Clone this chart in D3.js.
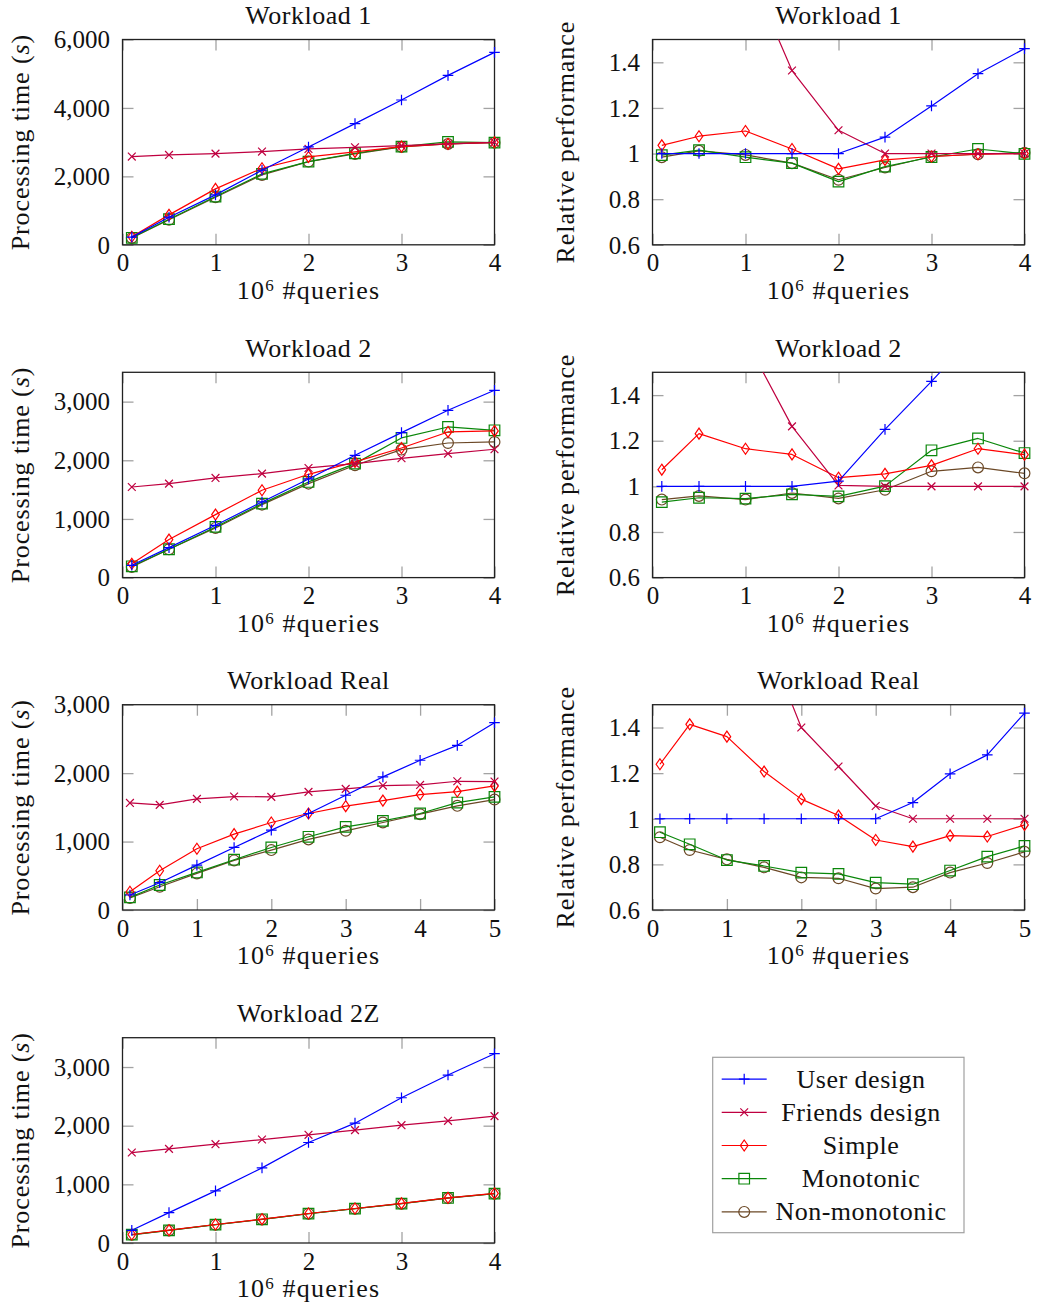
<!DOCTYPE html>
<html>
<head>
<meta charset="utf-8">
<script src="https://cdn.jsdelivr.net/npm/d3@7"></script>
<style>
  body { margin: 0; background: #fff; }
  svg text { font-family: "Liberation Serif", "DejaVu Serif", serif; fill: #111; }
</style>
</head>
<body>
<svg id="chart" width="1041" height="1307" font-family="Liberation Serif, DejaVu Serif, serif"></svg>
<script>
// ---- query counts (10^6) ----
const xsSynthetic = [0.1, 0.5, 1, 1.5, 2, 2.5, 3, 3.5, 4];
const xsReal = [0.1, 0.5, 1, 1.5, 2, 2.5, 3, 3.5, 4, 4.5, 5];

const seriesNames = ["User design", "Friends design", "Simple", "Monotonic", "Non-monotonic"];

// ---- Workload 1 ----
const w1TimeUser    = [224, 807, 1459, 2179, 2860, 3541, 4232, 4951, 5623];
const w1TimeFriends = [2578, 2626, 2665, 2724, 2802, 2850, 2899, 2947, 2996];
const w1TimeSimple  = [235, 875, 1634, 2237, 2568, 2714, 2870, 2947, 2996];
const w1TimeMono    = [204, 749, 1410, 2072, 2432, 2675, 2870, 3006, 2986];
const w1TimeNonMono = [200, 730, 1391, 2043, 2432, 2656, 2860, 2947, 2986];

const w1RelUser    = [1, 1, 1, 1, 1, 1.072, 1.209, 1.350, 1.460];
const w1RelFriends = [5.0, 2.6, 1.836, 1.364, 1.102, 1, 1, 1, 1];
const w1RelSimple  = [1.036, 1.076, 1.099, 1.020, 0.933, 0.972, 0.987, 0.997, 1.0];
const w1RelMono    = [0.993, 1.015, 0.984, 0.958, 0.877, 0.943, 0.985, 1.02, 0.999];
const w1RelNonMono = [0.984, 1.012, 0.994, 0.958, 0.885, 0.939, 0.987, 0.997, 1.004];

// ---- Workload 2 ----
const w2TimeUser    = [210, 511, 892, 1290, 1682, 2085, 2472, 2852, 3193];
const w2TimeFriends = [1545, 1602, 1699, 1773, 1869, 1943, 2034, 2114, 2188];
const w2TimeSimple  = [235, 648, 1074, 1489, 1761, 1972, 2210, 2483, 2500];
const w2TimeMono    = [193, 483, 864, 1261, 1631, 1943, 2381, 2568, 2511];
const w2TimeNonMono = [182, 483, 847, 1244, 1602, 1915, 2182, 2295, 2313];

const w2RelUser    = [1, 1, 1, 1, 1.023, 1.250, 1.460, 1.68, 1.88];
const w2RelFriends = [3.0, 2.2, 1.645, 1.263, 1.004, 1, 1, 1, 1];
const w2RelSimple  = [1.073, 1.231, 1.165, 1.140, 1.038, 1.055, 1.092, 1.165, 1.139];
const w2RelMono    = [0.931, 0.950, 0.946, 0.965, 0.956, 1.001, 1.158, 1.210, 1.146];
const w2RelNonMono = [0.942, 0.958, 0.942, 0.971, 0.947, 0.985, 1.066, 1.083, 1.057];

// ---- Workload Real ----
const realTimeUser    = [219, 399, 656, 914, 1167, 1410, 1677, 1945, 2188, 2406, 2737];
const realTimeFriends = [1565, 1536, 1624, 1658, 1653, 1726, 1770, 1818, 1828, 1881, 1877];
const realTimeSimple  = [267, 574, 895, 1108, 1279, 1410, 1517, 1599, 1687, 1731, 1813];
const realTimeMono    = [185, 365, 549, 735, 914, 1070, 1215, 1303, 1410, 1570, 1653];
const realTimeNonMono = [175, 340, 535, 725, 875, 1031, 1157, 1279, 1400, 1522, 1614];

const realRelUser    = [1, 1, 1, 1, 1, 1, 1, 1.071, 1.197, 1.28, 1.463];
const realRelFriends = [7.15, 3.85, 2.48, 1.81, 1.40, 1.229, 1.056, 1, 1, 1, 1];
const realRelSimple  = [1.239, 1.414, 1.360, 1.207, 1.086, 1.014, 0.907, 0.878, 0.926, 0.922, 0.973];
const realRelMono    = [0.941, 0.888, 0.819, 0.793, 0.764, 0.758, 0.720, 0.713, 0.773, 0.834, 0.881];
const realRelNonMono = [0.919, 0.863, 0.822, 0.787, 0.743, 0.739, 0.694, 0.700, 0.764, 0.806, 0.855];

// ---- Workload 2Z ----
const w2zTimeUser    = [216, 518, 888, 1281, 1713, 2043, 2476, 2863, 3227];
const w2zTimeFriends = [1542, 1605, 1685, 1764, 1844, 1924, 2009, 2083, 2163];
const w2zTimeSimple  = [145, 218, 315, 406, 503, 588, 675, 770, 845];
const w2zTimeMono    = [142, 216, 313, 404, 501, 586, 672, 768, 842];
const w2zTimeNonMono = [140, 214, 311, 402, 499, 584, 670, 766, 840];

// ---- tick values ----
const timeTicks6000 = [0, 2000, 4000, 6000];
const timeTicks3000 = [0, 1000, 2000, 3000];
const relTicks = [0.6, 0.8, 1, 1.2, 1.4];

// ---- styling ----
const seriesStyle = {
  "User design":    { color: "#0000ff", mark: "plus" },
  "Friends design": { color: "#bf0040", mark: "cross" },
  "Simple":         { color: "#ff0000", mark: "diamond" },
  "Monotonic":      { color: "#0a870a", mark: "square" },
  "Non-monotonic":  { color: "#6b4826", mark: "circle" }
};

const markPath = {
  plus:    "M-5.3,0H5.3M0,-5.3V5.3",
  cross:   "M-3.9,-3.9L3.9,3.9M-3.9,3.9L3.9,-3.9",
  diamond: "M0,-5.5L3.8,0L0,5.5L-3.8,0Z",
  square:  "M-5.3,-5.3H5.3V5.3H-5.3Z",
  circle:  "M5.4,0A5.4,5.4,0,1,1,-5.4,0A5.4,5.4,0,1,1,5.4,0Z"
};

const colX = [122.5, 652.5];
const rowY = [39.5, 372.3, 704.7, 1037.7];
const plotW = 372;
const plotH = 205.3;

const timeLabel = "time";
const relLabel = "rel";

const panels = [
  { title: "Workload 1", col: 0, row: 0, xs: xsSynthetic, xMax: 4, yDomain: [0, 6000], yTicks: timeTicks6000, kind: timeLabel,
    values: [w1TimeUser, w1TimeFriends, w1TimeSimple, w1TimeMono, w1TimeNonMono] },
  { title: "Workload 1", col: 1, row: 0, xs: xsSynthetic, xMax: 4, yDomain: [0.6, 1.5], yTicks: relTicks, kind: relLabel,
    values: [w1RelUser, w1RelFriends, w1RelSimple, w1RelMono, w1RelNonMono] },
  { title: "Workload 2", col: 0, row: 1, xs: xsSynthetic, xMax: 4, yDomain: [0, 3500], yTicks: timeTicks3000, kind: timeLabel,
    values: [w2TimeUser, w2TimeFriends, w2TimeSimple, w2TimeMono, w2TimeNonMono] },
  { title: "Workload 2", col: 1, row: 1, xs: xsSynthetic, xMax: 4, yDomain: [0.6, 1.5], yTicks: relTicks, kind: relLabel,
    values: [w2RelUser, w2RelFriends, w2RelSimple, w2RelMono, w2RelNonMono] },
  { title: "Workload Real", col: 0, row: 2, xs: xsReal, xMax: 5, yDomain: [0, 3000], yTicks: timeTicks3000, kind: timeLabel,
    values: [realTimeUser, realTimeFriends, realTimeSimple, realTimeMono, realTimeNonMono] },
  { title: "Workload Real", col: 1, row: 2, xs: xsReal, xMax: 5, yDomain: [0.6, 1.5], yTicks: relTicks, kind: relLabel,
    values: [realRelUser, realRelFriends, realRelSimple, realRelMono, realRelNonMono] },
  { title: "Workload 2Z", col: 0, row: 3, xs: xsSynthetic, xMax: 4, yDomain: [0, 3500], yTicks: timeTicks3000, kind: timeLabel,
    values: [w2zTimeUser, w2zTimeFriends, w2zTimeSimple, w2zTimeMono, w2zTimeNonMono] }
];

const svg = d3.select("#chart");
const FONT = 26;
const TICK_FONT = 25;
const LS = 0.5;

function styleTicks(sel) {
  sel.select(".domain").remove();
  sel.attr("font-size", null).attr("font-family", null);
  sel.selectAll(".tick line").attr("stroke", "#a3a3a3").attr("stroke-width", 1.3);
}

panels.forEach((p, pi) => {
  const g = svg.append("g").attr("transform", `translate(${colX[p.col]},${rowY[p.row]})`);
  const x = d3.scaleLinear().domain([0, p.xMax]).range([0, plotW]);
  const y = d3.scaleLinear().domain(p.yDomain).range([plotH, 0]);
  const xTicks = d3.range(0, p.xMax + 1);
  const yFmt = p.kind === timeLabel ? d3.format(",") : (d => String(+d.toFixed(1)));

  // inward ticks on all four sides
  g.append("g").attr("transform", `translate(0,${plotH})`)
    .call(d3.axisBottom(x).tickValues(xTicks).tickSizeInner(-11).tickSizeOuter(0).tickFormat(d3.format("d")))
    .call(styleTicks)
    .call(s => s.selectAll("text").attr("y", 26.5).attr("dy", null).attr("font-size", TICK_FONT));
  g.append("g")
    .call(d3.axisTop(x).tickValues(xTicks).tickSizeInner(-11).tickSizeOuter(0).tickFormat(""))
    .call(styleTicks);
  g.append("g")
    .call(d3.axisLeft(y).tickValues(p.yTicks).tickSizeInner(-11).tickSizeOuter(0).tickFormat(yFmt))
    .call(styleTicks)
    .call(s => s.selectAll("text").attr("x", -12.5).attr("dy", "0.33em").attr("font-size", TICK_FONT));
  g.append("g").attr("transform", `translate(${plotW},0)`)
    .call(d3.axisRight(y).tickValues(p.yTicks).tickSizeInner(-11).tickSizeOuter(0).tickFormat(""))
    .call(styleTicks);

  // frame
  g.append("rect").attr("width", plotW).attr("height", plotH)
    .attr("fill", "none").attr("stroke", "#222").attr("stroke-width", 1.3);

  // clip region for lines
  const clipId = `clip-${pi}`;
  g.append("clipPath").attr("id", clipId)
    .append("rect").attr("width", plotW).attr("height", plotH);

  const line = d3.line().x(d => x(d.x)).y(d => y(d.y));
  const [lo, hi] = p.yDomain;

  // draw bottom-to-top so the user design sits above the others
  const order = d3.range(seriesNames.length).reverse();
  order.forEach(si => {
    const name = seriesNames[si];
    const st = seriesStyle[name];
    const pts = p.xs.map((xv, i) => ({ x: xv, y: p.values[si][i] }));
    g.append("path").datum(pts)
      .attr("clip-path", `url(#${clipId})`)
      .attr("fill", "none").attr("stroke", st.color).attr("stroke-width", 1.2)
      .attr("stroke-linejoin", "round")
      .attr("d", line);
    g.append("g").selectAll("path")
      .data(pts.filter(d => d.y >= lo - 1e-9 && d.y <= hi + 1e-9))
      .join("path")
      .attr("transform", d => `translate(${x(d.x)},${y(d.y)})`)
      .attr("d", markPath[st.mark])
      .attr("fill", "none").attr("stroke", st.color).attr("stroke-width", 1.2);
  });

  // title
  g.append("text").attr("x", plotW / 2).attr("y", -15.5)
    .attr("text-anchor", "middle").attr("font-size", FONT).attr("letter-spacing", LS)
    .text(p.title);

  // x label: 10^6 #queries
  const xl = g.append("text").attr("x", plotW / 2).attr("y", plotH + 54)
    .attr("text-anchor", "middle").attr("font-size", FONT).attr("letter-spacing", 1.2);
  xl.append("tspan").text("10");
  xl.append("tspan").attr("font-size", 17).attr("dy", -8).text("6");
  xl.append("tspan").attr("dy", 8).text("\u00a0#queries");

  // y label
  const yl = g.append("text")
    .attr("transform", `translate(${p.col === 0 ? 28.5 - colX[0] : 574 - colX[1]},${plotH / 2}) rotate(-90)`)
    .attr("text-anchor", "middle").attr("font-size", FONT).attr("letter-spacing", 0.9);
  if (p.kind === timeLabel) {
    yl.append("tspan").text("Processing time (");
    yl.append("tspan").attr("font-style", "italic").text("s");
    yl.append("tspan").text(")");
  } else {
    yl.text("Relative performance");
  }
});

// legend
const legend = svg.append("g").attr("transform", "translate(712.7,1057.3)");
legend.append("rect").attr("width", 251.3).attr("height", 175.4)
  .attr("fill", "#fff").attr("stroke", "#a0a0a0").attr("stroke-width", 1.2);
const rowStep = 33.2;
seriesNames.forEach((name, i) => {
  const st = seriesStyle[name];
  const cy = 21.8 + i * rowStep;
  const row = legend.append("g").attr("transform", `translate(0,${cy})`);
  row.append("line").attr("x1", 9).attr("x2", 54).attr("stroke", st.color).attr("stroke-width", 1.2);
  row.append("path").attr("transform", "translate(31.5,0)").attr("d", markPath[st.mark])
    .attr("fill", "none").attr("stroke", st.color).attr("stroke-width", 1.2);
  row.append("text").attr("x", 148.3).attr("y", 8.5).attr("text-anchor", "middle")
    .attr("font-size", FONT).attr("letter-spacing", LS).text(name);
});
</script>
</body>
</html>
